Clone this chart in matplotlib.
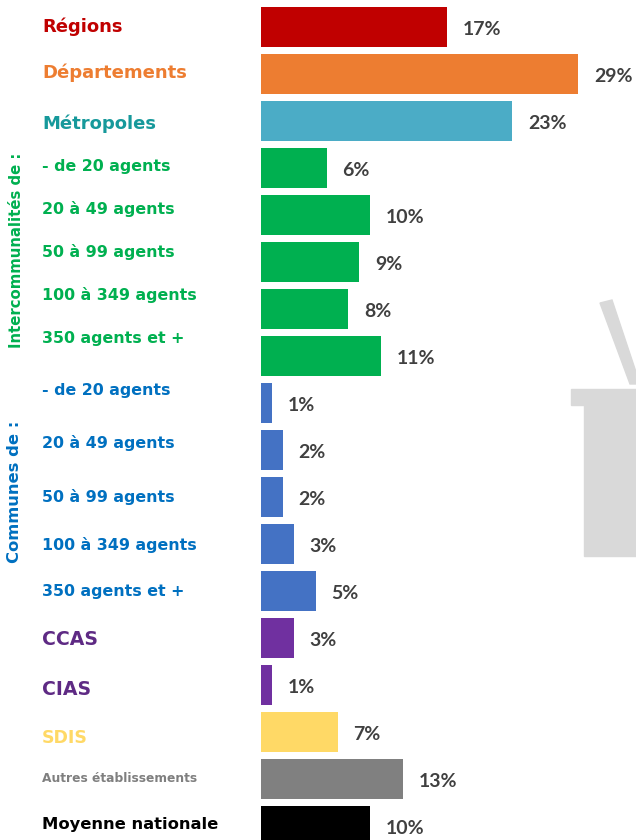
import matplotlib.pyplot as plt
import matplotlib.patches as patches
import matplotlib.transforms as mtransforms

# données
categories = ["Régions", "Départements", "Métropoles",
              "- de 20 agents", "20 à 49 agents", "50 à 99 agents", "100 à 349 agents", "350 agents et +",
              "- de 20 agents", "20 à 49 agents", "50 à 99 agents", "100 à 349 agents", "350 agents et +",
              "CCAS", "CIAS", "SDIS", "Autres établissements", "Moyenne nationale"]
values = [17, 29, 23, 6, 10, 9, 8, 11, 1, 2, 2, 3, 5, 3, 1, 7, 13, 10]
value_labels = ["17%", "29%", "23%", "6%", "10%", "9%", "8%", "11%", "1%", "2%", "2%", "3%", "5%",
                "3%", "1%", "7%", "13%", "10%"]
group_labels = ["Intercommunalités de :", "Communes de :"]

RED, ORANGE, TEAL = "#C00000", "#ED7D31", "#4BACC6"
GREEN, BLUE, PURPLE = "#00B050", "#4472C4", "#7030A0"
YELLOW, GREY = "#FFD966", "#808080"
bar_colors = [RED, ORANGE, TEAL] + [GREEN] * 5 + [BLUE] * 5 + [PURPLE, PURPLE, YELLOW, GREY, "#000000"]
text_colors = [RED, ORANGE, "#16999B"] + [GREEN] * 5 + ["#0070C0"] * 5 + \
              ["#5E2A84", "#5E2A84", YELLOW, "#7F7F7F", "#000000"]
text_sizes = [13, 13, 13] + [11.4] * 10 + [13.6, 13.6, 12.5, 8.8, 11.8]
# position verticale des libellés (en rangs)
label_y = [0, 0.98, 2.06, 2.96, 3.87, 4.79, 5.70, 6.62, 7.74, 8.85, 10.0, 11.02, 12.02,
           13.04, 14.09, 15.13, 15.98, 16.96]

W, H = 636, 840
fig = plt.figure(figsize=(W / 100, H / 100), dpi=100)

# forme grise en arrière-plan
def px(x, y):
    return (x / W, 1 - y / H)

deco = "#D9D9D9"
fig.add_artist(patches.Polygon([px(600, 303), px(612, 300), px(636, 372), px(636, 384), px(630, 384)],
                               closed=True, color=deco, transform=fig.transFigure, zorder=0))
fig.add_artist(patches.Polygon([px(571, 389), px(636, 389), px(636, 556), px(584, 556),
                                px(584, 405), px(571, 405)],
                               closed=True, color=deco, transform=fig.transFigure, zorder=0))

left = 261
scale = 10.93  # pixels par point de pourcentage
ax = fig.add_axes([left / W, 0, (W - left) / W, 1])
ax.set_facecolor("none")
ax.set_xlim(0, (W - left) / scale)
ax.set_ylim(17 + 14 / 47, -27 / 47)
ax.axis("off")

rows = list(range(len(values)))
ax.barh(rows, values, height=0.83, color=bar_colors, zorder=2)

for r, v, lab in zip(rows, values, value_labels):
    ax.text(v + 1.45, r + 0.05, lab, va="center", ha="left", fontsize=14, fontweight="bold",
            color="#404040", family="Lato", zorder=3)

trans = mtransforms.blended_transform_factory(fig.transFigure, ax.transData)
for cat, y, c, s in zip(categories, label_y, text_colors, text_sizes):
    ax.text(42 / W, y, cat, transform=trans, va="center", ha="left", fontsize=s,
            fontweight="bold", color=c, family="DejaVu Sans")

fig.text(17 / W, 1 - 250 / H, group_labels[0], rotation=90, va="center", ha="center",
         fontsize=10.7, fontweight="bold", color=GREEN, family="DejaVu Sans")
fig.text(15 / W, 1 - 492 / H, group_labels[1], rotation=90, va="center", ha="center",
         fontsize=11.8, fontweight="bold", color="#0070C0", family="DejaVu Sans")

fig.savefig("out.png", dpi=100, facecolor="white")
